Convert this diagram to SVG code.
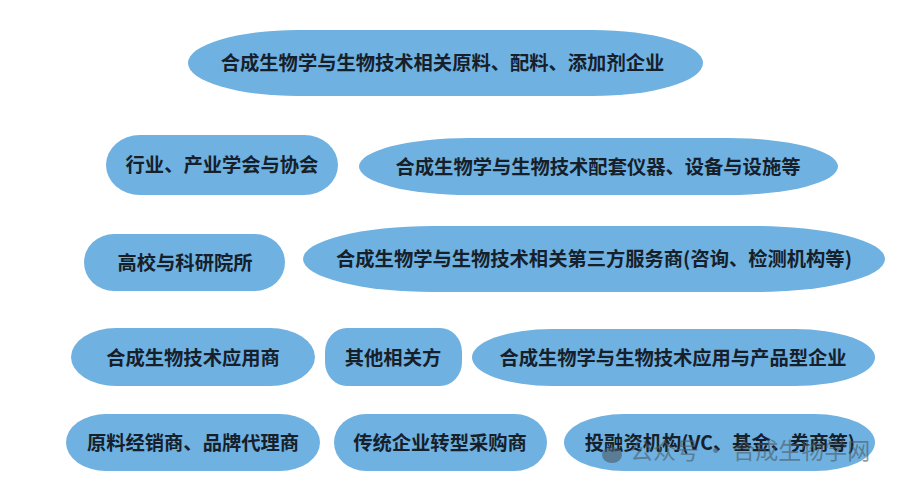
<svg xmlns="http://www.w3.org/2000/svg" width="911" height="497" viewBox="0 0 911 497">
<style>
.n{fill:#6fb1e0}
.t{font-family:"Noto Sans CJK SC","Liberation Sans",sans-serif;font-size:19.3px;font-weight:700;fill:#16202a;text-anchor:middle;dominant-baseline:central}
.w{font-family:"Noto Sans CJK SC","Liberation Sans",sans-serif;font-size:23px;font-weight:400;fill:#4d5a66;fill-opacity:.62}
</style>
<rect width="911" height="497" fill="#fff"/>
<g id="connectors"></g>
<g id="n1"><rect class="n" x="188" y="30" width="515" height="66" rx="110" ry="33"/><text class="t" x="442.500" y="62">合成生物学与生物技术相关原料、配料、添加剂企业</text></g>
<g id="n2"><rect class="n" x="106" y="135" width="232" height="60" rx="34" ry="30"/><text class="t" x="222" y="164">行业、产业学会与协会</text></g>
<g id="n3"><rect class="n" x="359" y="138" width="479" height="57" rx="110" ry="28.5"/><text class="t" x="598" y="166">合成生物学与生物技术配套仪器、设备与设施等</text></g>
<g id="n4"><rect class="n" x="84" y="234" width="201" height="57" rx="30" ry="28.5"/><text class="t" x="185" y="262">高校与科研院所</text></g>
<g id="n5"><rect class="n" x="303" y="226" width="582" height="66" rx="130" ry="33"/><text class="t" x="594" y="258">合成生物学与生物技术相关第三方服务商(咨询、检测机构等)</text></g>
<g id="n6"><rect class="n" x="71" y="328" width="244" height="58" rx="45" ry="29"/><text class="t" x="193" y="357">合成生物技术应用商</text></g>
<g id="n7"><rect class="n" x="325" y="328" width="137" height="58" rx="22" ry="24"/><text class="t" x="393" y="357">其他相关方</text></g>
<g id="n8"><rect class="n" x="472" y="329" width="403" height="57" rx="80" ry="28.5"/><text class="t" x="673" y="357">合成生物学与生物技术应用与产品型企业</text></g>
<g id="n9"><rect class="n" x="66" y="414" width="254" height="57" rx="40" ry="28.5"/><text class="t" x="193" y="442">原料经销商、品牌代理商</text></g>
<g id="n10"><rect class="n" x="334" y="414" width="213" height="57" rx="32" ry="28.5"/><text class="t" x="440" y="442">传统企业转型采购商</text></g>
<g id="n11"><rect class="n" x="564" y="414" width="311" height="57" rx="60" ry="28.5"/><text class="t" x="720" y="442">投融资机构(VC、基金、券商等)</text></g>
<ellipse cx="612" cy="455" rx="10" ry="8" fill="#4d5a66" fill-opacity=".6"/>
<text class="w" x="630" y="459">公众号 · 合成生物学网</text>
</svg>
